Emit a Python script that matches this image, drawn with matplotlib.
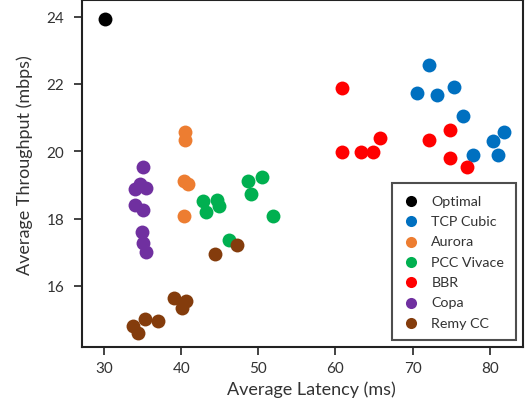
import matplotlib
matplotlib.use("Agg")
import matplotlib.pyplot as plt

# data (latency ms, throughput mbps)
optimal_x = [30.1]
optimal_y = [23.93]

cubic_x = [72.1, 70.6, 73.2, 75.4, 76.5, 81.8, 80.5, 77.8, 81.1]
cubic_y = [22.57, 21.72, 21.67, 21.92, 21.05, 20.56, 20.30, 19.90, 19.90]

aurora_x = [40.5, 40.5, 40.4, 40.9, 40.4]
aurora_y = [20.56, 20.34, 19.12, 19.04, 18.09]

vivace_x = [42.8, 43.2, 44.6, 44.9, 48.6, 50.5, 49.0, 51.9, 46.2]
vivace_y = [18.51, 18.20, 18.55, 18.36, 19.12, 19.22, 18.72, 18.07, 17.35]

bbr_x = [60.9, 60.9, 63.3, 64.9, 65.75, 72.1, 74.9, 74.8, 77.1]
bbr_y = [21.87, 19.98, 19.98, 19.98, 20.38, 20.34, 20.63, 19.79, 19.53]

copa_x = [35.0, 34.6, 34.0, 35.4, 34.0, 35.1, 34.9, 35.1, 35.4]
copa_y = [19.52, 19.02, 18.87, 18.92, 18.40, 18.26, 17.60, 17.26, 17.02]

remy_x = [47.2, 44.4, 39.0, 40.6, 40.1, 35.3, 37.0, 33.7, 34.4]
remy_y = [17.21, 16.95, 15.63, 15.55, 15.33, 15.00, 14.97, 14.80, 14.60]

series = [
    ("Optimal", optimal_x, optimal_y, "#000000"),
    ("TCP Cubic", cubic_x, cubic_y, "#0070C0"),
    ("Aurora", aurora_x, aurora_y, "#ED7D31"),
    ("PCC Vivace", vivace_x, vivace_y, "#00B050"),
    ("BBR", bbr_x, bbr_y, "#FF0000"),
    ("Copa", copa_x, copa_y, "#7030A0"),
    ("Remy CC", remy_x, remy_y, "#843C0C"),
]

plt.rcParams["font.family"] = ["Lato", "DejaVu Sans"]

fig = plt.figure(figsize=(5.27, 4.10), dpi=100)
ax = fig.add_axes([0.156, 0.151, 0.836, 0.847])

for name, xs, ys, color in series:
    ax.scatter(xs, ys, s=100, color=color, label=name, linewidths=0, zorder=3)

ax.set_xlim(27.15, 84.3)
ax.set_ylim(14.18, 24.5)
ax.set_xticks([30, 40, 50, 60, 70, 80])
ax.set_yticks([16, 18, 20, 22, 24])
ax.tick_params(direction="out", length=6, width=1.2, colors="#222222",
               labelsize=11, labelcolor="#333333")
ax.tick_params(axis="y", pad=7)
ax.tick_params(axis="x", pad=4)
for sp in ax.spines.values():
    sp.set_linewidth(1.5)
    sp.set_color("#222222")

ax.set_xlabel("Average Latency (ms)", fontsize=13, color="#333333")
ax.set_ylabel("Average Throughput (mbps)", fontsize=13, color="#333333")
ax.xaxis.set_label_coords(0.52, -0.095)
ax.yaxis.set_label_coords(-0.112, 0.527)

leg = ax.legend(loc="lower right", bbox_to_anchor=(0.984, 0.02), borderaxespad=0,
                fontsize=10.3, frameon=True, fancybox=False, borderpad=0.8,
                labelspacing=0.58, handletextpad=0.85, handlelength=1.1,
                markerscale=0.8)
leg.get_frame().set_edgecolor("#222222")
leg.get_frame().set_linewidth(1.5)
for t in leg.get_texts():
    t.set_color("#333333")

fig.savefig("out.png", dpi=100)
